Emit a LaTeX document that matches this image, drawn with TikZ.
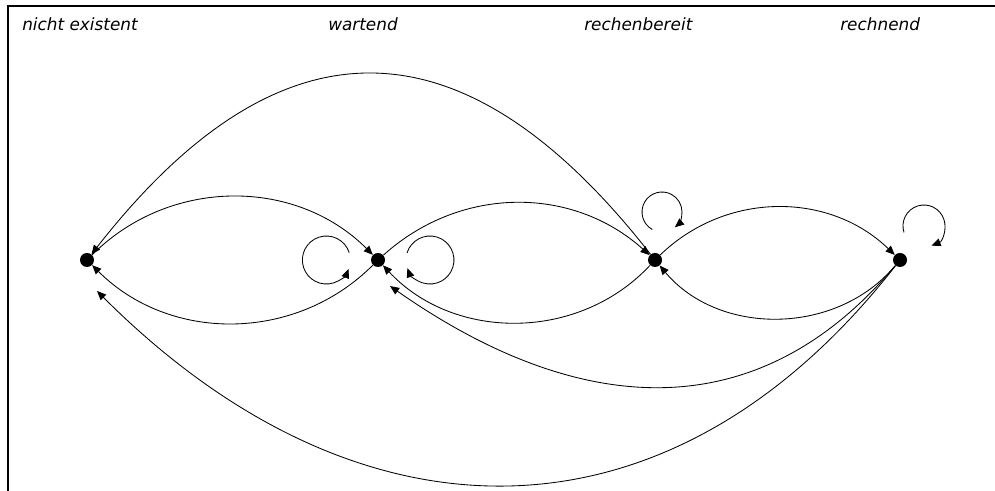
\documentclass[tikz,border=0pt]{standalone}
\usepackage{fontspec}
\setsansfont{DejaVu Sans}
\usetikzlibrary{arrows.meta}

\begin{document}
\begin{tikzpicture}[
  x=0.025cm, y=0.025cm,
  state/.style={circle, fill=black, inner sep=0pt, minimum size=0.35cm},
  lbl/.style={anchor=base west, inner sep=0pt,
              font=\sffamily\itshape\fontsize{12}{14}\selectfont},
  arr/.style={-{Triangle[length=6.5pt, width=5.5pt]}, line width=0.6pt},
  frame/.style={line width=1.4pt}
]
  \useasboundingbox (0,0) rectangle (995,491);
  \draw[frame] (8,0) -- (8,485) -- (995,485);

  % labels
  \node[lbl] (lblN) at (22,460)  {nicht existent};
  \node[lbl] (lblW) at (328,460) {wartend};
  \node[lbl] (lblB) at (584,460) {rechenbereit};
  \node[lbl] (lblR) at (840,460) {rechnend};

  % states
  \node[state] (N) at (87,231)  {};
  \node[state] (W) at (378,231) {};
  \node[state] (B) at (655,231) {};
  \node[state] (R) at (900,231) {};
  \coordinate (Wfoot) at (390,205);
  \coordinate (Nfoot) at (97,200);

  \draw[arr] (B) to[out=128, in=52, looseness=1.4] (N);
  \draw[arr] (N) to[bend left=45] (W);
  \draw[arr] (W) to[bend left=45] (N);
  \draw[arr] (W) to[bend left=42] (B);
  \draw[arr] (B) to[bend left=47] (W);
  \draw[arr] (B) to[bend left=44] (R);
  \draw[arr] (R) to[bend left=50] (B);
  \draw[arr] (R) to[out=230, in=-35, looseness=1.12] (Wfoot);
  \draw[arr] (R) to[out=232, in=-45, looseness=1.18] (Nfoot);

  % loops
  \draw[arr] ([shift={(-28.8,7.4)}]W.center) arc[start angle=18, end angle=338, radius=24];
  \draw[arr] ([shift={(29,7)}]W.center) arc[start angle=163, end angle=-160, radius=24];
  \draw[arr] ([shift={(-2.7,30.5)}]B.center) arc[start angle=241, end angle=-50, radius=20];
  \draw[arr] ([shift={(4,27.5)}]R.center) arc[start angle=198, end angle=-69, radius=21];
\end{tikzpicture}
\end{document}
